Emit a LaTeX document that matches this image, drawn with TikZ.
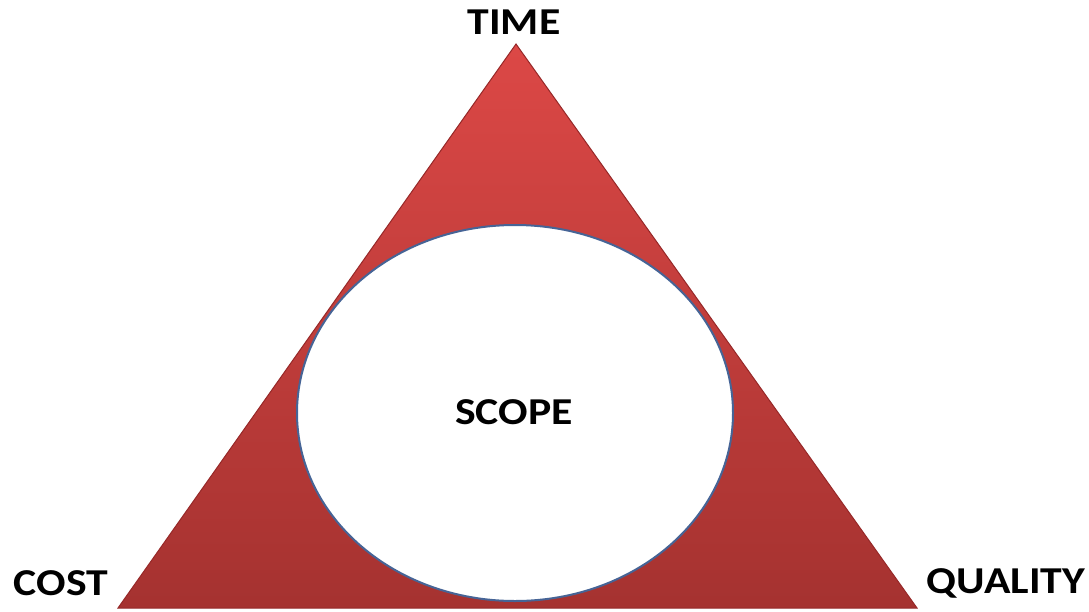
\documentclass[tikz,border=0pt]{standalone}
\usepackage{fontspec}
\setmainfont{Carlito}
\usetikzlibrary{shapes.geometric}
\definecolor{tritop}{RGB}{220,72,70}
\definecolor{tribot}{RGB}{165,50,48}
\definecolor{triedge}{RGB}{150,40,40}
\definecolor{ringblue}{RGB}{70,100,150}
\begin{document}
\begin{tikzpicture}[x=1pt,y=-1pt,
  lbl/.style={font=\bfseries\fontsize{38}{40}\selectfont, text=black, inner sep=0pt, xscale=1.15},
  tri/.style={top color=tritop, bottom color=tribot, draw=triedge, line width=1pt, line join=miter},
  scopering/.style={ellipse, draw=ringblue, fill=white, line width=2pt, minimum width=436pt, minimum height=376pt, inner sep=0pt}]
\useasboundingbox (0,0) rectangle (1089,611);
\coordinate (apex) at (516,44);
\coordinate (bl) at (118,608);
\coordinate (br) at (917,608);
\path[tri] (apex) -- (br) -- (bl) -- cycle;
\node[scopering] (scope) at (515,413) {};
\node[lbl] (scopelbl) at (514,412) {SCOPE};
\node[lbl] (time) at (514,22) {TIME};
\node[lbl] (cost) at (61,583) {COST};
\node[lbl] (quality) at (1006,583) {QUALITY};
\end{tikzpicture}
\end{document}
